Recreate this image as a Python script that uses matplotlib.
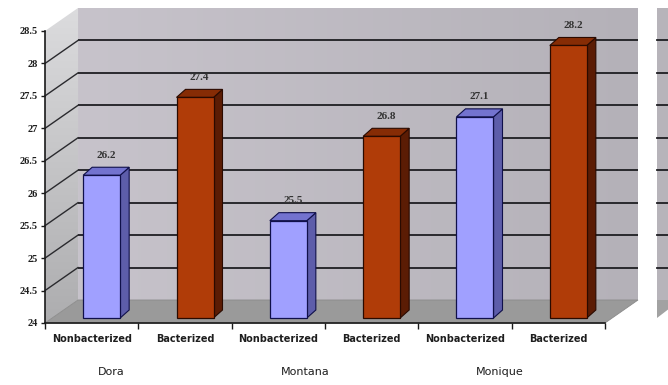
import numpy as np
import matplotlib.pyplot as plt
from matplotlib.patches import Polygon, Rectangle
from matplotlib.colors import LinearSegmentedColormap

cultivars = ["Dora", "Montana", "Monique"]
treatments = ["Nonbacterized", "Bacterized"]
values = [26.2, 27.4, 25.5, 26.8, 27.1, 28.2]
y_ticks = [24, 24.5, 25, 25.5, 26, 26.5, 27, 27.5, 28, 28.5]
y_tick_labels = ["24", "24.5", "25", "25.5", "26", "26.5", "27", "27.5", "28", "28.5"]

W, H = 668, 385
fig = plt.figure(figsize=(W / 100, H / 100), dpi=100)
fig.patch.set_facecolor("white")

# front plane of the 3-D box, pixel corners
left, right, bottom, top = 45, 605, 323, 31
ax = fig.add_axes([left / W, 1 - bottom / H, (right - left) / W, (bottom - top) / H])
ax.set_facecolor("none")
xmin, xmax = -0.5, len(values) - 0.5
ymin, ymax = y_ticks[0], y_ticks[-1]

# data units per pixel
ux = (xmax - xmin) / (right - left)
uy = (ymax - ymin) / (bottom - top)
DX, DY = 33 * ux, 23 * uy          # depth of the box
BX, BY = 9 * ux, 8 * uy            # depth of each column
OX, OY = 10 * ux, 5 * uy           # column set back from the front edge
HW = 18.5 * ux                     # half width of a column face


def gradient_fill(poly, c0, c1, vertical, extent):
    cmap = LinearSegmentedColormap.from_list("g", [c0, c1])
    g = np.linspace(0, 1, 256)
    img = g[:, None] if vertical else g[None, :]
    im = ax.imshow(img, cmap=cmap, extent=extent, aspect="auto",
                   origin="upper" if vertical else "lower", zorder=0,
                   interpolation="bilinear")
    ax.add_patch(poly)
    im.set_clip_box(fig.bbox)
    im.set_clip_path(poly)


# back wall
back = Polygon([(xmin + DX, ymin + DY), (xmax + DX, ymin + DY),
                (xmax + DX, ymax + DY), (xmin + DX, ymax + DY)],
               closed=True, facecolor="none", edgecolor="none", clip_on=False)
gradient_fill(back, "#c7c3cb", "#b4b1b8", False,
              (xmin + DX, xmax + DX, ymin + DY, ymax + DY))

# side wall
side = Polygon([(xmin, ymin), (xmin, ymax), (xmin + DX, ymax + DY), (xmin + DX, ymin + DY)],
               closed=True, facecolor="none", edgecolor="none", clip_on=False)
gradient_fill(side, "#dcdcde", "#adadaf", True,
              (xmin, xmin + DX, ymin, ymax + DY))

# floor
floor = Polygon([(xmin, ymin), (xmax, ymin), (xmax + DX, ymin + DY), (xmin + DX, ymin + DY)],
                closed=True, facecolor="#9a9a9a", edgecolor="#8a8a8a", lw=0.6,
                clip_on=False, zorder=1)
ax.add_patch(floor)

# gridlines on the walls
for v in y_ticks[1:-1]:
    ax.plot([xmin + DX, xmax + DX], [v + DY, v + DY], color="#1e1e22", lw=1.3,
            clip_on=False, zorder=2, solid_capstyle="butt")
    ax.plot([xmin, xmin + DX], [v, v + DY], color="#2a2a2e", lw=1.0,
            clip_on=False, zorder=2)

# edge of the neighbouring chart
nx0 = xmin + (657 - left) * ux
nx1 = xmin + (W + 2 - left) * ux
ax.add_patch(Rectangle((nx0, ymin + DY), nx1 - nx0, ymax - ymin, facecolor="#b7b4ba",
                       edgecolor="none", clip_on=False, zorder=0))
ax.add_patch(Polygon([(nx0, ymin + DY), (nx1, ymin + DY), (nx1, ymin + DY - 8 * uy),
                      (nx0, ymin + DY - 18 * uy)], closed=True, facecolor="#a2a2a2",
                     edgecolor="none", clip_on=False, zorder=0))
for v in y_ticks[1:-1]:
    ax.plot([nx0, nx1], [v + DY, v + DY], color="#1e1e22", lw=1.3, clip_on=False, zorder=1)

# columns
styles = [("#a0a0ff", "#5d5daa", "#7373cf", "#10104a"),
          ("#b03c08", "#5b1c04", "#862c05", "#2a0a00")]
for i, v in enumerate(values):
    face, shade, lid, edge = styles[i % 2]
    xl, xr = i + OX - HW, i + OX + HW
    y0, y1 = ymin + OY, v + OY
    ax.add_patch(Polygon([(xr, y0), (xr, y1), (xr + BX, y1 + BY), (xr + BX, y0 + BY)],
                         closed=True, facecolor=shade, edgecolor=edge, lw=0.8,
                         clip_on=False, zorder=3))
    ax.add_patch(Polygon([(xl, y1), (xr, y1), (xr + BX, y1 + BY), (xl + BX, y1 + BY)],
                         closed=True, facecolor=lid, edgecolor=edge, lw=0.8,
                         clip_on=False, zorder=3))
    ax.add_patch(Rectangle((xl, y0), xr - xl, y1 - y0, facecolor=face, edgecolor=edge,
                           lw=0.9, clip_on=False, zorder=4))
    ax.text(i + OX + BX / 2, y1 + BY + 12 * uy, f"{v:.1f}", ha="center", va="center",
            fontsize=8, fontweight="bold", family="Liberation Serif", color="#333333",
            zorder=5)

ax.set_xlim(xmin, xmax)
ax.set_ylim(ymin, ymax)

# axes and ticks
for s in ["top", "right"]:
    ax.spines[s].set_visible(False)
for s in ["left", "bottom"]:
    ax.spines[s].set_color("#1a1a1a")
    ax.spines[s].set_linewidth(1.2)
    ax.spines[s].set_zorder(6)

ax.set_yticks(y_ticks)
ax.set_yticklabels(y_tick_labels, fontsize=7.5, fontweight="bold", family="Liberation Serif",
                   color="#1e1e1e")
ax.tick_params(axis="y", length=3, width=1, direction="out", pad=2, color="#1a1a1a")

ax.set_xticks(np.arange(xmin, xmax + 0.01, 1))
ax.set_xticklabels([])
ax.tick_params(axis="x", which="major", length=4, width=1, direction="out", color="#1a1a1a")
ax.set_xticks(np.arange(len(values)), minor=True)
ax.set_xticklabels(treatments * len(cultivars), minor=True, fontsize=7,
                   fontweight="bold", color="#1e1e1e")
ax.tick_params(axis="x", which="minor", length=0, pad=8)

# cultivar names, set a little left of each pair's centre
group_shift = [-27 * ux, -20 * ux, -12 * ux]
for k, name in enumerate(cultivars):
    ax.text(2 * k + 0.5 + group_shift[k], -(372 - bottom) / (bottom - top), name,
            transform=ax.get_xaxis_transform(), ha="center", va="center",
            fontsize=8, color="#1e1e1e")

fig.savefig("out.png", dpi=100)
